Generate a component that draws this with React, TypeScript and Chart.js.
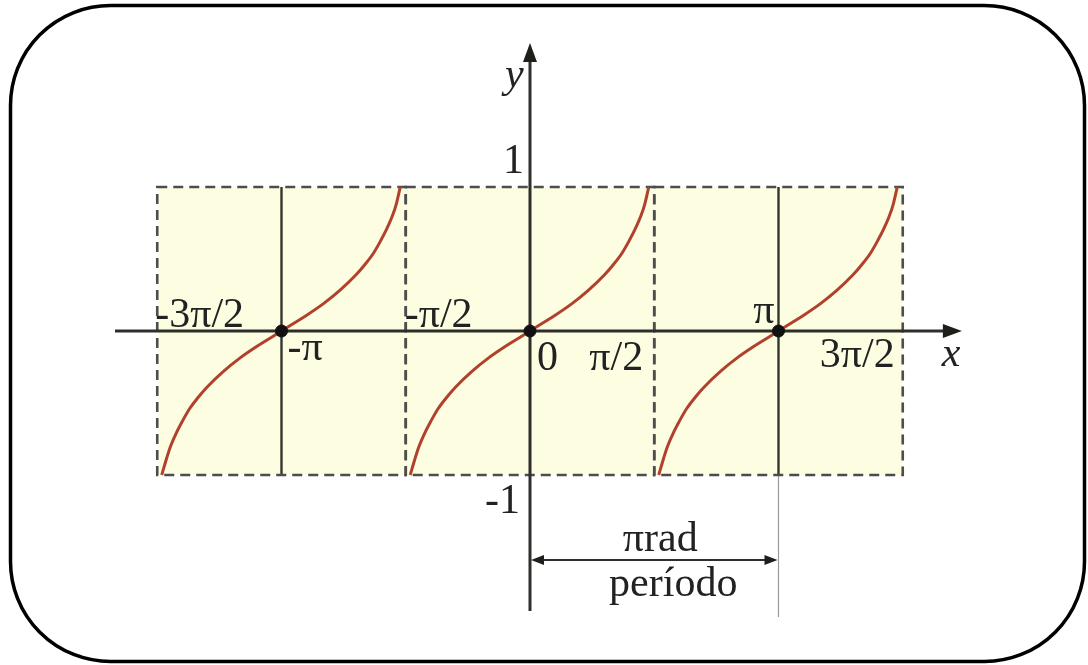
import React, { useEffect, useRef } from "react";
import { Chart, registerables } from "chart.js";

Chart.register(...registerables);

// x values are in units of π (radians / π)
const curveCenters = [-1, 0, 1];
const curveShapeX = [-0.482, -0.4625, -0.4475, -0.4225, -0.4, -0.37, -0.335, -0.3, -0.2335, -0.169, -0.1, -0.032, 0, 0.032, 0.1, 0.169, 0.2335, 0.3, 0.335, 0.37, 0.4, 0.4225, 0.4475, 0.4625, 0.478];
const curveShapeY = [-1.0, -0.885, -0.805, -0.705, -0.63, -0.54, -0.46, -0.39, -0.28, -0.19, -0.108, -0.035, 0, 0.035, 0.108, 0.19, 0.28, 0.39, 0.46, 0.54, 0.63, 0.705, 0.805, 0.885, 1.0];
const zeroPointsX = [-1, 0, 1];
const zeroPointsY = [0, 0, 0];
const boxStarts = [-1.5, -0.5, 0.5];
const boxWidth = 1;
const boxYRange = [-1, 1];
const xTickValues = [-1.5, -1, -0.5, 0, 0.5, 1, 1.5];
const xTickLabels = ["-3π/2", "-π", "-π/2", "0", "π/2", "π", "3π/2"];
const yTickValues = [1, -1];
const yTickLabels = ["1", "-1"];
const periodStart = 0;
const periodEnd = 1;
const periodTop = "πrad";
const periodBottom = "período";

const X_MIN = -2.1328, X_MAX = 2.2455, Y_MIN = -2.3194, Y_MAX = 2.2986;

// label placement (layout only)
const xTickPlace: Record<string, [CanvasTextAlign, number, number]> = {
  "-3π/2": ["left", -2, -4],
  "-π": ["left", 6, 29],
  "-π/2": ["left", -1, -4],
  "0": ["left", 7, 39],
  "π/2": ["right", -11, 39],
  "π": ["right", -4, -8],
  "3π/2": ["right", -8, 36],
};
const yTickPlace: Record<string, [number, number]> = {
  "1": [-6, -14],
  "-1": [-10, 38],
};

const FONT = '42px "Liberation Serif", "DejaVu Serif", serif';
const ITALIC = 'italic 42px "Liberation Serif", "DejaVu Serif", serif';

function arrowHead(ctx: CanvasRenderingContext2D, x: number, y: number, dir: "r" | "l" | "u", len: number, half: number) {
  ctx.beginPath();
  if (dir === "r") { ctx.moveTo(x, y); ctx.lineTo(x - len, y - half); ctx.lineTo(x - len, y + half); }
  if (dir === "l") { ctx.moveTo(x, y); ctx.lineTo(x + len, y - half); ctx.lineTo(x + len, y + half); }
  if (dir === "u") { ctx.moveTo(x, y); ctx.lineTo(x - half, y + len); ctx.lineTo(x + half, y + len); }
  ctx.closePath();
  ctx.fill();
}

const decorPlugin = {
  id: "decor",
  beforeDatasetsDraw(chart: any) {
    const ctx: CanvasRenderingContext2D = chart.ctx;
    const xs = chart.scales.x, ys = chart.scales.y;
    const px = (v: number) => xs.getPixelForValue(v);
    const py = (v: number) => ys.getPixelForValue(v);
    ctx.save();
    // frame
    ctx.strokeStyle = "#000";
    ctx.lineWidth = 3.5;
    ctx.beginPath();
    (ctx as any).roundRect(10.5, 5.5, 1074, 656, 100);
    ctx.stroke();

    const yTop = py(boxYRange[1]), yBot = py(boxYRange[0]);
    // boxes fill
    ctx.fillStyle = "#fdfde1";
    for (const s of boxStarts) {
      ctx.fillRect(px(s), yTop, px(s + boxWidth) - px(s), yBot - yTop);
    }
    // solid vertical lines at -π and π
    ctx.strokeStyle = "#35352f";
    ctx.lineWidth = 2.4;
    for (const c of [curveCenters[0], curveCenters[2]]) {
      ctx.beginPath();
      ctx.moveTo(px(c), yTop);
      ctx.lineTo(px(c), yBot);
      ctx.stroke();
    }
    // π line extension
    ctx.strokeStyle = "#9a9a9a";
    ctx.lineWidth = 1.2;
    ctx.beginPath();
    ctx.moveTo(px(periodEnd), yBot);
    ctx.lineTo(px(periodEnd), py(-1.986));
    ctx.stroke();

    // dashed outlines
    ctx.strokeStyle = "#4d4d4d";
    ctx.lineWidth = 2.6;
    ctx.setLineDash([10, 6]);
    for (const s of boxStarts) {
      ctx.strokeRect(px(s), yTop, px(s + boxWidth) - px(s), yBot - yTop);
    }
    ctx.setLineDash([]);

    // axes
    ctx.strokeStyle = "#2e2e2a";
    ctx.fillStyle = "#1e1e1a";
    ctx.lineWidth = 3;
    const y0 = py(0), x0 = px(0);
    const xL = px(-1.67), xR = px(1.738);
    ctx.beginPath();
    ctx.moveTo(xL, y0);
    ctx.lineTo(xR - 14, y0);
    ctx.stroke();
    arrowHead(ctx, xR, y0, "r", 19, 7);
    const yB = py(-1.944), yT = py(2.0);
    ctx.beginPath();
    ctx.moveTo(x0, yB);
    ctx.lineTo(x0, yT + 14);
    ctx.stroke();
    arrowHead(ctx, x0, yT, "u", 19, 7);

    // period arrow
    const ya = py(-1.59);
    const xa = px(periodStart), xb = px(periodEnd);
    ctx.lineWidth = 2;
    ctx.beginPath();
    ctx.moveTo(xa + 8, ya);
    ctx.lineTo(xb - 8, ya);
    ctx.stroke();
    arrowHead(ctx, xa + 1, ya, "l", 13, 5);
    arrowHead(ctx, xb - 1, ya, "r", 13, 5);
    ctx.restore();
  },
  afterDatasetsDraw(chart: any) {
    const ctx: CanvasRenderingContext2D = chart.ctx;
    const xs = chart.scales.x, ys = chart.scales.y;
    const px = (v: number) => xs.getPixelForValue(v);
    const py = (v: number) => ys.getPixelForValue(v);
    ctx.save();
    ctx.fillStyle = "#222";
    ctx.font = FONT;
    ctx.textBaseline = "alphabetic";
    const y0 = py(0), x0 = px(0);
    xTickValues.forEach((v, i) => {
      const lab = xTickLabels[i];
      const [al, dx, dy] = xTickPlace[lab];
      ctx.textAlign = al;
      ctx.fillText(lab, px(v) + dx, y0 + dy);
    });
    yTickValues.forEach((v, i) => {
      const lab = yTickLabels[i];
      const [dx, dy] = yTickPlace[lab];
      ctx.textAlign = "right";
      ctx.fillText(lab, x0 + dx, py(v) + dy);
    });
    ctx.font = ITALIC;
    ctx.textAlign = "left";
    ctx.fillText("y", x0 - 25, py(1.695));
    ctx.fillText("x", px(1.657), y0 + 35);
    ctx.font = FONT;
    ctx.textAlign = "center";
    const mid = (px(periodStart) + px(periodEnd)) / 2;
    ctx.fillText(periodTop, mid + 6, py(-1.53));
    ctx.fillText(periodBottom, mid + 19, py(-1.84));
    ctx.restore();
  },
};

export default function App() {
  const ref = useRef<HTMLCanvasElement>(null);
  useEffect(() => {
    if (!ref.current) return;
    const curveDatasets = curveCenters.map((c) => ({
      type: "scatter" as const,
      data: curveShapeX.map((dx, i) => ({ x: c + dx, y: curveShapeY[i] })),
      showLine: true,
      borderColor: "#b0412d",
      borderWidth: 3,
      pointRadius: 0,
      cubicInterpolationMode: "monotone" as const,
      order: 2,
    }));
    const chart = new Chart(ref.current, {
      type: "scatter",
      data: {
        datasets: [
          ...curveDatasets,
          {
            type: "scatter",
            data: zeroPointsX.map((x, i) => ({ x, y: zeroPointsY[i] })),
            pointRadius: 6,
            pointBackgroundColor: "#111",
            pointBorderColor: "#111",
            order: 1,
          } as any,
        ],
      },
      options: {
        animation: false,
        responsive: false,
        layout: { padding: 0, autoPadding: false },
        plugins: { legend: { display: false }, tooltip: { enabled: false } },
        scales: {
          x: { type: "linear", min: X_MIN, max: X_MAX, display: false },
          y: { type: "linear", min: Y_MIN, max: Y_MAX, display: false },
        },
      },
      plugins: [decorPlugin],
    });
    return () => chart.destroy();
  }, []);
  return (
    <div style={{ position: "fixed", left: 0, top: 0, width: 1088, height: 665, background: "#fff" }}>
      <canvas ref={ref} width={1088} height={665} style={{ display: "block" }} />
    </div>
  );
}
